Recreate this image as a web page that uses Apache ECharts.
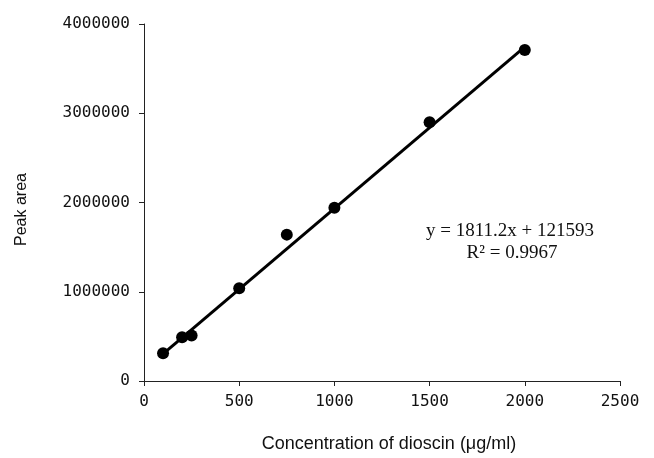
<!DOCTYPE html>
<html>
<head>
<meta charset="utf-8">
<script src="https://cdn.jsdelivr.net/npm/echarts@6/dist/echarts.min.js"></script>
<style>
  html, body { margin: 0; padding: 0; background: #fff; }
  #chart { width: 654px; height: 458px; }
</style>
</head>
<body>
<div id="chart"></div>
<script>
// concentration (µg/ml) and measured peak area
const concentration = [100, 200, 250, 500, 750, 1000, 1500, 2000]
const peakArea = [310000, 490000, 510000, 1040000, 1640000, 1940000, 2900000, 3710000]

// linear trendline ends
const trendX = [100, 2000]
const trendY = [303000, 3744000]

const equationText = 'y = 1811.2x + 121593'
const rSquaredText = 'R² = 0.9967'

const chart = echarts.init(document.getElementById('chart'))

const axisLine = { lineStyle: { color: '#222', width: 1 } }
const tickLabel = {
  color: '#111',
  fontFamily: 'DejaVu Sans Mono',
  fontSize: 16,
  formatter: v => String(v)
}

chart.setOption({
  animation: false,
  grid: {
    left: 144,
    right: 34,
    top: 24,
    bottom: 76
  },
  xAxis: {
    type: 'value',
    min: 0,
    max: 2500,
    interval: 500,
    name: 'Concentration of dioscin (μg/ml)',
    nameLocation: 'middle',
    nameGap: 54,
    nameTextStyle: { fontFamily: 'Liberation Sans', fontSize: 18, color: '#111', padding: [0, 0, 0, 14] },
    axisLine,
    axisTick: { show: true, length: 5, lineStyle: { color: '#222' } },
    axisLabel: Object.assign({ margin: 13 }, tickLabel),
    splitLine: { show: false }
  },
  yAxis: {
    type: 'value',
    min: 0,
    max: 4000000,
    interval: 1000000,
    name: 'Peak area',
    nameLocation: 'middle',
    nameGap: 114,
    nameTextStyle: { fontFamily: 'Liberation Sans', fontSize: 16, color: '#111', padding: [0, 14, 0, 0] },
    axisLine: Object.assign({ show: true }, axisLine),
    axisTick: { show: true, length: 5, lineStyle: { color: '#222' } },
    axisLabel: Object.assign({ margin: 14 }, tickLabel),
    splitLine: { show: false }
  },
  graphic: [
    {
      type: 'text',
      x: 510,
      y: 231,
      style: {
        text: equationText,
        font: '19px "Liberation Serif"',
        fill: '#111',
        align: 'center',
        verticalAlign: 'middle'
      }
    },
    {
      type: 'text',
      x: 512,
      y: 253,
      style: {
        text: rSquaredText,
        font: '19px "Liberation Serif"',
        fill: '#111',
        align: 'center',
        verticalAlign: 'middle'
      }
    }
  ],
  series: [
    {
      name: 'trend',
      type: 'line',
      data: trendX.map((x, i) => [x, trendY[i]]),
      symbol: 'none',
      lineStyle: { color: '#000', width: 3 },
      z: 2
    },
    {
      name: 'Peak area',
      type: 'scatter',
      data: concentration.map((x, i) => [x, peakArea[i]]),
      symbolSize: 12,
      itemStyle: { color: '#000', opacity: 1 },
      z: 3
    }
  ]
})
</script>
</body>
</html>
